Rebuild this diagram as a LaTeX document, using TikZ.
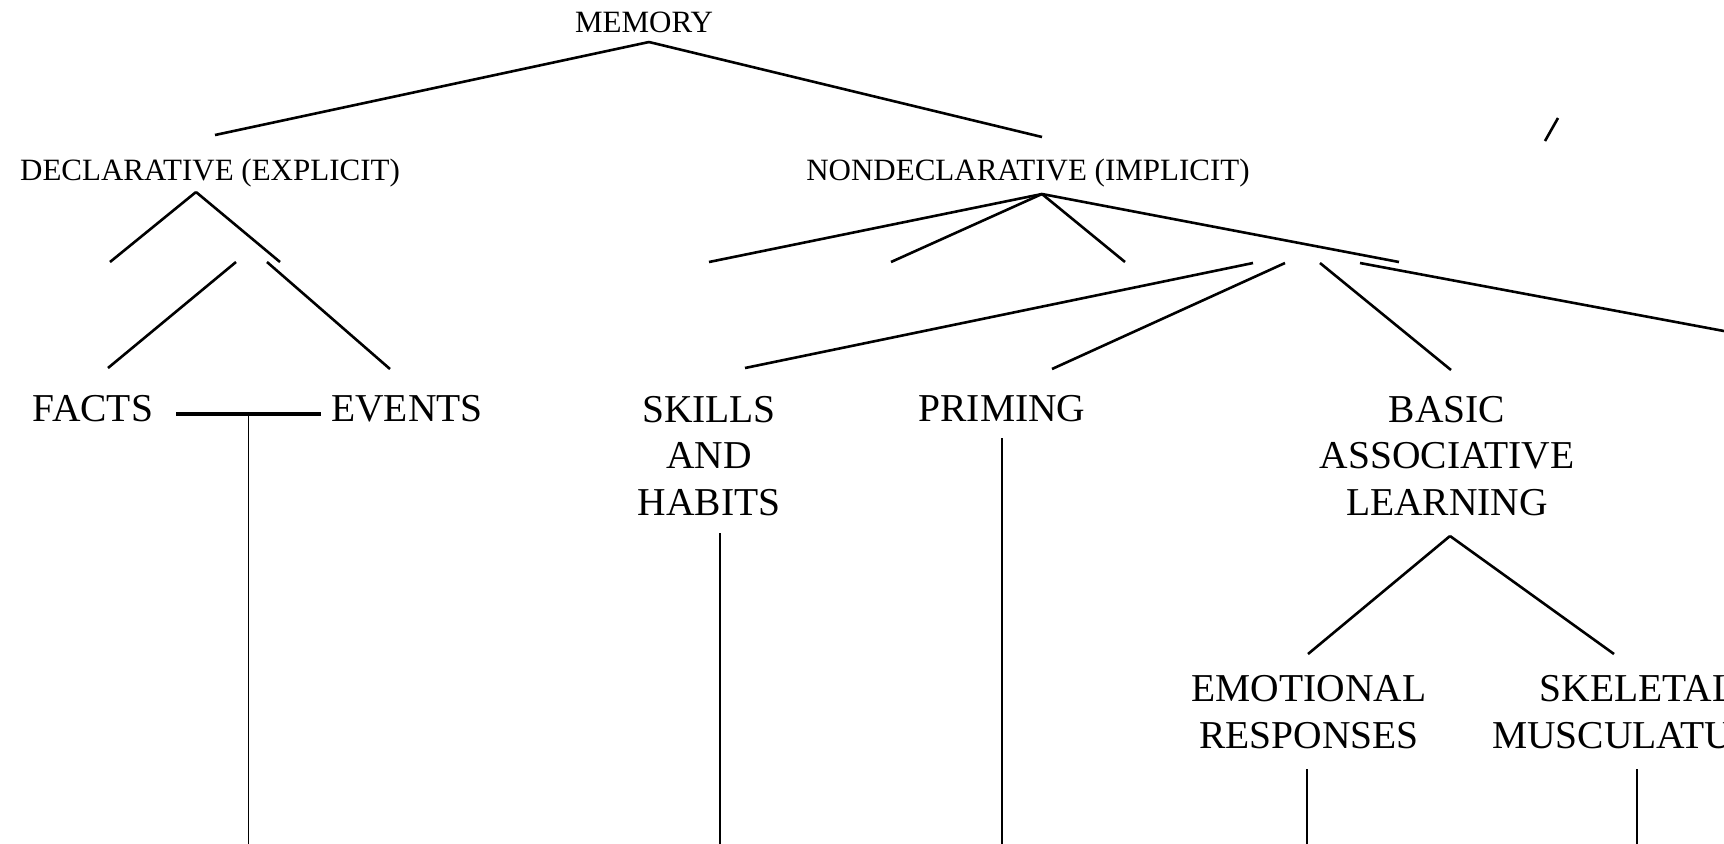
\documentclass[tikz,border=0pt]{standalone}
\usepackage{fontspec}
\setmainfont{Liberation Serif}
\begin{document}
\begin{tikzpicture}[x=0.5pt,y=-0.5pt,
  thick,
  small label/.style={anchor=base,inner sep=0pt,font=\fontsize{15.5pt}{18pt}\selectfont},
  big label/.style={anchor=base,inner sep=0pt,align=center,font=\fontsize{19.75pt}{23.25pt}\selectfont},
  branch/.style={line width=1.3pt},
  stem/.style={line width=0.9pt}]
  \useasboundingbox (0,0) rectangle (1724,843);
  \clip (0,0) rectangle (1724,843);

  % labels (base = last line)
  \node[small label] (1) at (644,32) {MEMORY};
  \node[small label] (2) at (210,180) {DECLARATIVE (EXPLICIT)};
  \node[small label] (3) at (1028,180) {NONDECLARATIVE (IMPLICIT)};
  \node[big label] (4) at (93,421) {FACTS};
  \node[big label] (5) at (407,421) {EVENTS};
  \node[big label] (6) at (709,515) {SKILLS\\AND\\HABITS};
  \node[big label] (7) at (1002,421) {PRIMING};
  \node[big label] (8) at (1447,515) {BASIC\\ASSOCIATIVE\\LEARNING};
  \node[big label] (9) at (1309,748) {EMOTIONAL\\RESPONSES};
  \node[big label] (10) at (1638,748) {SKELETAL\\MUSCULATURE};

  % branch points
  \coordinate (1a) at (649,42);
  \coordinate (2a) at (215,135);
  \coordinate (3a) at (1042,137);
  \coordinate (2b) at (196,192);
  \coordinate (2c) at (110,262);
  \coordinate (2d) at (280,262);
  \coordinate (2e) at (236,262);
  \coordinate (2f) at (267,262);
  \coordinate (4a) at (108,368);
  \coordinate (5a) at (390,369);
  \coordinate (3b) at (1042,194);
  \coordinate (3c) at (709,262);
  \coordinate (3d) at (891,262);
  \coordinate (3e) at (1125,262);
  \coordinate (3f) at (1399,262);
  \coordinate (3g) at (1253,263);
  \coordinate (3h) at (1285,263);
  \coordinate (3i) at (1320,263);
  \coordinate (3j) at (1360,263);
  \coordinate (6a) at (745,368);
  \coordinate (7a) at (1052,369);
  \coordinate (8a) at (1451,370);
  \coordinate (11) at (1740,334);
  \coordinate (8b) at (1450,536);
  \coordinate (9a) at (1308,654);
  \coordinate (10a) at (1614,654);
  \coordinate (4b) at (176,414);
  \coordinate (5b) at (321,414);
  \coordinate (4c) at (248.5,414);
  \coordinate (4d) at (248.5,850);
  \coordinate (6b) at (720,533);
  \coordinate (6c) at (720,850);
  \coordinate (7b) at (1002,438);
  \coordinate (7c) at (1002,850);
  \coordinate (9b) at (1307,769);
  \coordinate (9c) at (1307,850);
  \coordinate (10b) at (1637,769);
  \coordinate (10c) at (1637,850);
  \coordinate (12) at (1558,118);
  \coordinate (13) at (1545,141);

  \path[branch]
   (1a) edge (2a)
   (1a) edge (3a)
   (2b) edge (2c)
   (2b) edge (2d)
   (2e) edge (4a)
   (2f) edge (5a)
   (3b) edge (3c)
   (3b) edge (3d)
   (3b) edge (3e)
   (3b) edge (3f)
   (3g) edge (6a)
   (3h) edge (7a)
   (3i) edge (8a)
   (3j) edge (11)
   (8b) edge (9a)
   (8b) edge (10a)
   (12) edge (13);

  \path[line width=1.6pt] (4b) edge (5b);

  \path[stem]
   (4c) edge (4d)
   (6b) edge (6c)
   (7b) edge (7c)
   (9b) edge (9c)
   (10b) edge (10c);
\end{tikzpicture}
\end{document}
